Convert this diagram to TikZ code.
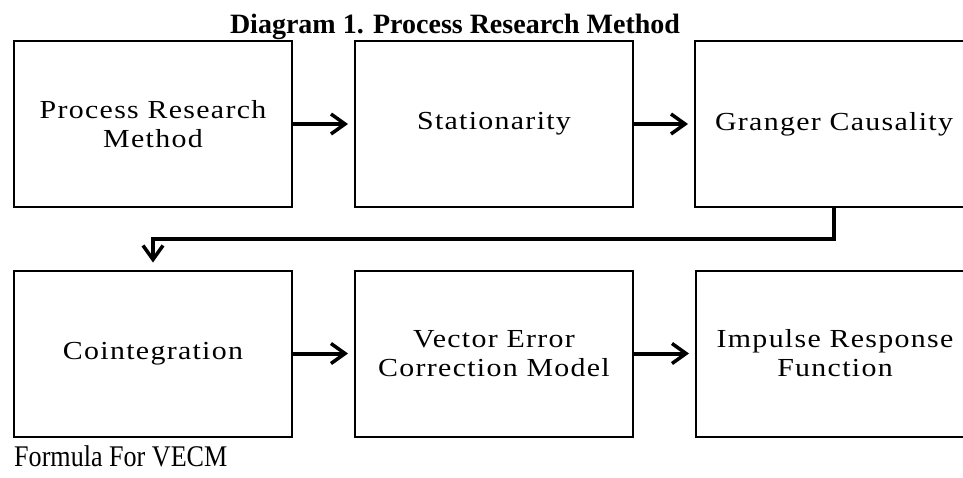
\documentclass[tikz,border=0pt]{standalone}
\usepackage{fontspec}
\setmainfont{Liberation Serif}
\newfontfamily\boxfont[FakeStretch=1.15,LetterSpace=5]{Liberation Serif}
\newfontfamily\formfont[FakeStretch=0.87]{Liberation Serif}
\usetikzlibrary{arrows.meta}
\tikzset{
  stepbox/.style={draw=black, line width=2pt, rectangle, minimum width=278pt, minimum height=166pt,
    inner sep=0pt, align=center, font=\boxfont\fontsize{26}{29}\selectfont},
  flow/.style={line width=4pt, -{Straight Barb[length=14pt,width=20pt,line width=3.5pt]}},
}
\begin{document}
\begin{tikzpicture}[x=1pt,y=-1pt]
\useasboundingbox (0,0) rectangle (963,477);
\node[font=\bfseries\fontsize{28}{30}\selectfont, anchor=base] (title) at (455,33) {Diagram 1. Process Research Method};
\node[stepbox] (b1) at (153,124) {Process Research\\Method};
\node[stepbox] (b2) at (494,124) {Stationarity};
\node[stepbox] (b3) at (834,124) {Granger Causality};
\node[stepbox] (b4) at (153,353.5) {Cointegration};
\node[stepbox] (b5) at (494,353.5) {Vector Error\\Correction Model};
\node[stepbox] (b6) at (835,353.5) {Impulse Response\\Function};
\node[font=\formfont\fontsize{30}{32}\selectfont, anchor=base west, inner sep=0pt] (formula) at (14,466) {Formula For VECM};
\draw[flow, shorten >=6pt] (b1) -- (b2);
\draw[flow, shorten >=6pt] (b2) -- (b3);
\draw[flow, shorten >=6pt] (b4) -- (b5);
\draw[flow, shorten >=6pt] (b5) -- (b6);
\draw[flow, shorten >=7pt] (b3.south) -- ++(0,31) -| (b4.north);
\end{tikzpicture}
\end{document}
